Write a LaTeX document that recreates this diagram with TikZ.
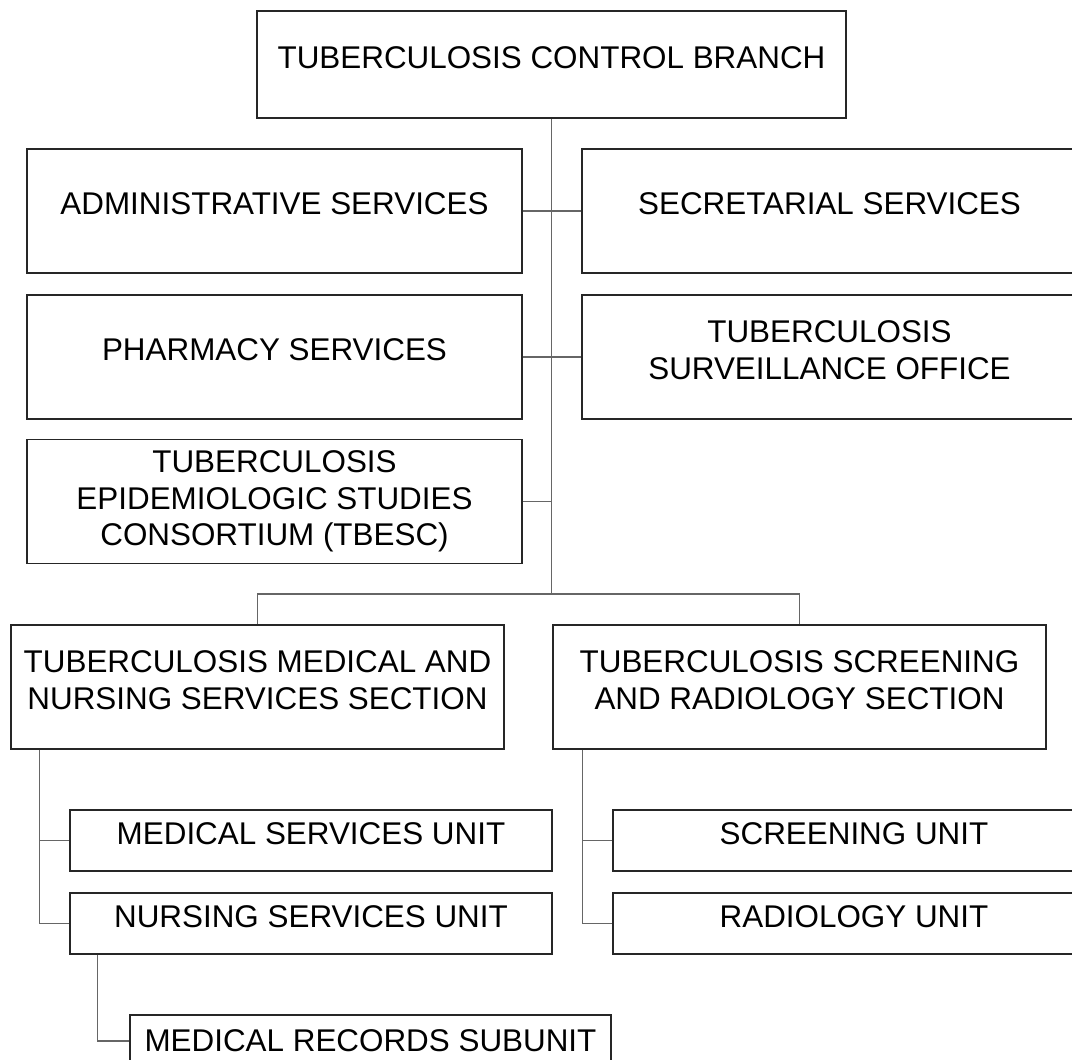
\documentclass[tikz,border=0pt]{standalone}
\usepackage{fontspec}
\setmainfont{Liberation Sans}
\usepackage{tikz}
\usetikzlibrary{positioning}
\tikzset{%
  % Specifications for style of nodes:
        base/.style = {rectangle, draw=black!85, line width=1.5pt,
                       text centered, align=center,
                       font=\fontsize{31.4}{36.5}\selectfont},
      raised/.style = {execute at end node={\rule[-14pt]{0pt}{0pt}}},
        head/.style = {base, raised, minimum width=589pt, minimum height=107pt},
     service/.style = {base, raised, minimum width=495pt, minimum height=124pt},
     section/.style = {base, raised, minimum width=493pt, minimum height=124pt},
        unit/.style = {base, raised, minimum width=482pt, minimum height=61pt},
     subunit/.style = {base, minimum width=481pt, minimum height=52pt},
        link/.style = {draw=black!60, line width=1.4pt},
}
\begin{document}
\begin{tikzpicture}[x=1pt, y=1pt]
  \useasboundingbox (0,0) rectangle (1072,-1060);
  % Specification of nodes (position, etc.)
  \node (branch)   [head]    at (551.5,-64.5)  {TUBERCULOSIS CONTROL BRANCH};
  \node (admin)    [service] at (274.5,-211)   {ADMINISTRATIVE SERVICES};
  \node (secr)     [service] at (829.5,-211)   {SECRETARIAL SERVICES};
  \node (pharm)    [service] at (274.5,-357)   {PHARMACY SERVICES};
  \node (surv)     [service] at (829.5,-357)   {TUBERCULOSIS\\SURVEILLANCE OFFICE};
  \node (tbesc)    [base, minimum width=495pt, minimum height=124pt]
                             at (274.5,-501.5) {TUBERCULOSIS\\EPIDEMIOLOGIC STUDIES\\CONSORTIUM (TBESC)};
  \node (medsec)   [section] at (257.5,-687)   {TUBERCULOSIS MEDICAL AND\\NURSING SERVICES SECTION};
  \node (scrsec)   [section] at (799.5,-687)   {TUBERCULOSIS SCREENING\\AND RADIOLOGY SECTION};
  \node (medunit)  [unit]    at (311,-840.5)   {MEDICAL SERVICES UNIT};
  \node (nursunit) [unit]    at (311,-923.5)   {NURSING SERVICES UNIT};
  \node (scrunit)  [unit]    at (854,-840.5)   {SCREENING UNIT};
  \node (radunit)  [unit]    at (854,-923.5)   {RADIOLOGY UNIT};
  \node (records)  [subunit] at (370.5,-1041)  {MEDICAL RECORDS SUBUNIT};
  % Helper points for the branch lines
  \coordinate (bus)      at (552,-594);
  \coordinate (lspine)   at ([xshift=-30pt]medunit.west);
  \coordinate (rspine)   at ([xshift=-30pt]scrunit.west);
  \coordinate (recspine) at ([xshift=-31.5pt]records.west);
  % Specification of lines between nodes specified above
  \draw[link] (branch.south) -- (branch.south |- bus);
  \draw[link] (admin) -- (secr);
  \draw[link] (pharm) -- (surv);
  \draw[link] (tbesc.east) -- (tbesc.east -| bus);
  \draw[link] (medsec.north) |- (bus) -| (scrsec.north);
  \draw[link] (lspine |- medsec.south) |- (nursunit.west);
  \draw[link] (lspine) -- (medunit.west);
  \draw[link] (rspine |- scrsec.south) |- (radunit.west);
  \draw[link] (rspine) -- (scrunit.west);
  \draw[link] (recspine |- nursunit.south) |- (records.west);
\end{tikzpicture}
\end{document}
